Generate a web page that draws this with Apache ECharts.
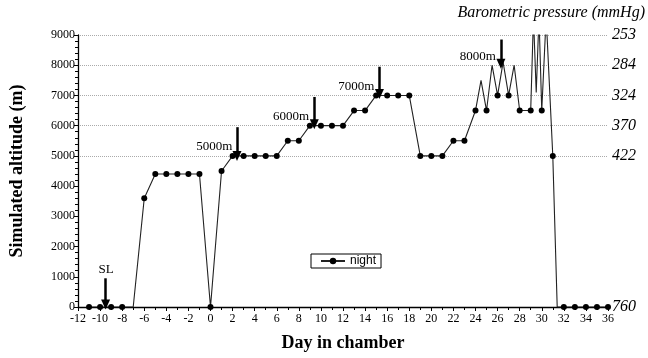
<!DOCTYPE html>
<html>
<head>
<meta charset="utf-8">
<script src="https://cdn.jsdelivr.net/npm/echarts@6/dist/echarts.min.js"></script>
<style>
  html, body { margin: 0; padding: 0; background: #fff; }
  #chart { width: 648px; height: 358px; }
</style>
</head>
<body>
<div id="chart"></div>
<script>
// day in chamber and simulated altitude (m); nightPoint=0 -> daytime excursion, no marker
const days = [-11, -10, -9, -8, -7, -6, -5, -4, -3, -2, -1, 0, 1, 2, 3, 4, 5, 6, 7, 8,
  9, 10, 11, 12, 13, 14, 15, 16, 17, 18, 19, 20, 21, 22, 23, 24, 24.5, 25, 25.5, 26,
  26.5, 27, 27.5, 28, 29, 29.25, 29.5, 29.75, 30, 30.4, 31, 31.4, 32, 33, 34, 35, 36]
const altitude = [0, 0, 0, 0, 0, 3600, 4400, 4400, 4400, 4400, 4400, 0, 4500, 5000, 5000, 5000, 5000, 5000, 5500, 5500,
  6000, 6000, 6000, 6000, 6500, 6500, 7000, 7000, 7000, 7000, 5000, 5000, 5000, 5500, 5500, 6500, 7500, 6500, 8000, 7000,
  8100, 7000, 8000, 6500, 6500, 9600, 7100, 9600, 6500, 9600, 5000, 0, 0, 0, 0, 0, 0]
const nightPoint = [1, 1, 1, 1, 0, 1, 1, 1, 1, 1, 1, 1, 1, 1, 1, 1, 1, 1, 1, 1,
  1, 1, 1, 1, 1, 1, 1, 1, 1, 1, 1, 1, 1, 1, 1, 1, 0, 1, 0, 1,
  0, 1, 0, 1, 1, 0, 0, 0, 1, 0, 1, 0, 1, 1, 1, 1, 1]

// right axis: barometric pressure at given altitudes
const pressureAlt = [0, 5000, 6000, 7000, 8000, 9000]
const pressureLabels = ['760', '422', '370', '324', '284', '253']

// arrows marking each new stage
const stageText = ['SL', '5000m', '6000m', '7000m', '8000m']
const stageDay = [-9.5, 2.4, 9.4, 15.3, 26.3]
const arrowTop = [950, 5950, 6950, 7950, 8850]
const arrowTip = [80, 5000, 6050, 7050, 8050]
const textPos = [[-9.45, 1230], [0.35, 5300], [7.3, 6290], [13.2, 7280], [24.2, 8280]]

const serif = '"Liberation Serif", "DejaVu Serif", serif'
const chart = echarts.init(document.getElementById('chart'))

const lineData = days.map((d, i) => {
  const item = { value: [d, altitude[i]] }
  if (!nightPoint[i]) item.symbol = 'none'
  return item
})

// split lines only from 5000 m up (0..9000 -> 10 lines)
const splitColors = ['transparent', 'transparent', 'transparent', 'transparent', 'transparent',
  '#aaa', '#aaa', '#aaa', '#aaa', '#aaa']

const option = {
  animation: false,
  grid: { left: 70, right: 40, top: 35, bottom: 51 },
  legend: {
    left: 311,
    top: 254,
    data: ['night'],
    borderColor: '#000',
    borderWidth: 1,
    borderRadius: 0,
    padding: [1, 5, 1, 9],
    itemWidth: 24,
    itemHeight: 8,
    itemGap: 4,
    textStyle: { fontFamily: 'Liberation Sans, Arial, sans-serif', fontSize: 12, color: '#000' }
  },
  graphic: [{
    type: 'text',
    right: 3,
    top: 5,
    style: { text: 'Barometric pressure (mmHg)', font: 'italic 16px ' + serif, fill: '#000' }
  }],
  xAxis: {
    type: 'value',
    min: -12,
    max: 36,
    interval: 2,
    name: 'Day in chamber',
    nameLocation: 'middle',
    nameGap: 27,
    nameTextStyle: { fontFamily: serif, fontWeight: 'bold', fontSize: 18, color: '#000' },
    axisLine: { onZero: false, lineStyle: { color: '#000', width: 1.3 } },
    axisTick: { length: 4, lineStyle: { color: '#000' } },
    minorTick: { show: true, splitNumber: 2, length: 3, lineStyle: { color: '#000' } },
    axisLabel: { fontFamily: serif, fontSize: 12, color: '#000', margin: 6 },
    splitLine: { show: false }
  },
  yAxis: [{
    type: 'value',
    min: 0,
    max: 9000,
    interval: 1000,
    name: 'Simulated altitude (m)',
    nameLocation: 'middle',
    nameGap: 52,
    nameTextStyle: { fontFamily: serif, fontWeight: 'bold', fontSize: 18, color: '#000' },
    axisLine: { show: true, onZero: false, lineStyle: { color: '#000', width: 1.3 } },
    axisTick: { show: true, length: 4, lineStyle: { color: '#000' } },
    minorTick: { show: true, splitNumber: 5, length: 3, lineStyle: { color: '#000' } },
    axisLabel: { fontFamily: serif, fontSize: 12, color: '#000', margin: 3, formatter: v => String(v) },
    splitLine: { show: true, lineStyle: { type: 'dotted', color: splitColors, width: 1 } }
  }, {
    type: 'value',
    position: 'right',
    min: 0,
    max: 9000,
    interval: 1000,
    axisLine: { show: false },
    axisTick: { show: false },
    splitLine: { show: false },
    axisLabel: {
      fontFamily: serif,
      fontStyle: 'italic',
      fontSize: 16,
      color: '#000',
      margin: 4,
      formatter: v => {
        const i = pressureAlt.indexOf(v)
        return i >= 0 ? pressureLabels[i] : ''
      }
    }
  }],
  series: [{
    name: 'night',
    type: 'line',
    data: lineData,
    symbol: 'circle',
    symbolSize: 6,
    clip: true,
    z: 3,
    lineStyle: { color: '#222', width: 1.1 },
    itemStyle: { color: '#000', borderColor: '#000', borderWidth: 0 }
  }, {
    name: 'arrows',
    type: 'line',
    data: [],
    z: 4,
    markLine: {
      silent: true,
      symbol: ['none', 'triangle'],
      symbolSize: [9, 10],
      symbolRotate: 180,
      label: { show: false },
      lineStyle: { type: 'solid', color: '#000', width: 2.5 },
      data: stageDay.map((d, i) => [
        { coord: [d, arrowTop[i]] },
        { coord: [d, arrowTip[i]] }
      ])
    },
    markPoint: {
      silent: true,
      symbol: 'circle',
      symbolSize: 0,
      label: { show: true, position: 'inside', fontFamily: serif, fontSize: 13, color: '#000' },
      data: stageText.map((t, i) => ({ coord: textPos[i], value: t, label: { formatter: t } }))
    }
  }]
}

chart.setOption(option)
</script>
</body>
</html>
